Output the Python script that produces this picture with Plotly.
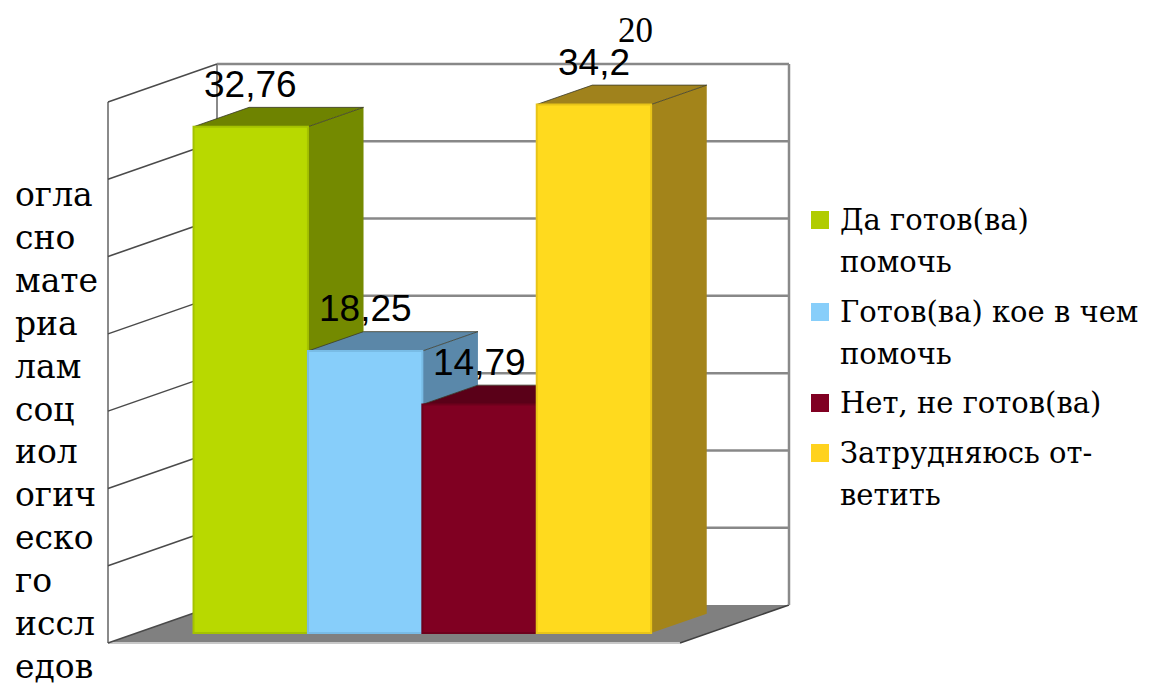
import plotly.graph_objects as go

# ---------------- data ----------------
series_names = ["Да готов(ва)<br>помочь", "Готов(ва) кое в чем<br>помочь",
                "Нет, не готов(ва)", "Затрудняюсь от-<br>ветить"]
values = [32.76, 18.25, 14.79, 34.2]
value_labels = ["32,76", "18,25", "14,79", "34,2"]
front_colors = ["#B8D900", "#87CEFA", "#800022", "#FFDA1E"]
side_colors = ["#748A00", "#5A88AA", "#55001A", "#A3841A"]
top_colors = ["#6E8300", "#5B87A8", "#5A0018", "#A0821C"]
edge_colors = ["#A4C200", "#79BCE6", "#6E001C", "#E8C418"]
legend_colors = ["#B0CC00", "#87CEFA", "#800022", "#FFD21E"]
axis_title_lines = ["огла", "сно", "мате", "риа", "лам", "соц", "иол",
                    "огич", "еско", "го", "иссл", "едов"]
top_text = "20"
axis_max, axis_step = 35, 5

SERIF_CYR = "DejaVu Serif, serif"
SERIF_NUM = "Liberation Serif, DejaVu Serif, serif"
SANS = "Liberation Sans, Arimo, Arial, sans-serif"

# ---------------- layout constants (page pixels) ----------------
PAGE_W, PAGE_H = 1156, 686
OFF = 8                      # default page body margin
W, H = PAGE_W - OFF, PAGE_H - OFF
FRONT_LEFT, FRONT_BOTTOM = 108 - OFF, 643 - OFF
WALL_W, WALL_H = 572, 541
DEPTH_PX = (109, 38)
SLOTS = 5
BAR_D1, BAR_D2 = 0.26, 0.77

ux = WALL_W / SLOTS
uy = WALL_H / axis_max
ox = DEPTH_PX[0] / ux
oy = DEPTH_PX[1] / uy


def px(xp):
    return (xp - OFF) / W


def py(yp):
    return 1 - (yp - OFF) / H


def P(x, v, d):
    return x + d * ox, v + d * oy


fig = go.Figure()


def line(pts, color, width, z=0, dash=None):
    xs = [p[0] for p in pts]
    ys = [p[1] for p in pts]
    fig.add_trace(go.Scatter(x=xs, y=ys, mode="lines", line=dict(color=color, width=width, dash=dash),
                             hoverinfo="skip", showlegend=False, zorder=z))


def poly(pts, color, z, lc=None, lw=0):
    xs = [p[0] for p in pts] + [pts[0][0]]
    ys = [p[1] for p in pts] + [pts[0][1]]
    fig.add_trace(go.Scatter(x=xs, y=ys, mode="lines", fill="toself", fillcolor=color,
                             line=dict(color=lc or color, width=lw), hoverinfo="skip",
                             showlegend=False, zorder=z))


# floor
poly([P(0, 0, 0), P(SLOTS, 0, 0), P(SLOTS, 0, 1), P(0, 0, 1)], "#808080", 0)
line([P(0, 0, 0), P(SLOTS, 0, 0)], "#C8C8C8", 2)
line([P(SLOTS, 0, 0), P(SLOTS, 0, 1)], "#404040", 1.5)

# back wall
for v in range(axis_step, axis_max + 1, axis_step):
    line([P(0, v, 1), P(SLOTS, v, 1)], "#888888", 2.5)
line([P(0, 0, 1), P(0, axis_max, 1)], "#8A8A8A", 2)
line([P(SLOTS, 0, 1), P(SLOTS, axis_max, 1)], "#8A8A8A", 2.5)
# left wall
line([P(0, 0, 0), P(0, axis_max, 0)], "#8A8A8A", 2)
for v in range(0, axis_max + 1, axis_step):
    line([P(0, v, 0), P(0, v, 1)], "#4A4A4A", 1.5)

# bars
for i, (val, name) in enumerate(zip(values, series_names)):
    xl = 0.5 + i
    xr = xl + 1
    z = 1 + 2 * i
    poly([P(xr, 0, BAR_D1), P(xr, val, BAR_D1), P(xr, val, BAR_D2), P(xr, 0, BAR_D2)], side_colors[i], z)
    poly([P(xl, val, BAR_D1), P(xr, val, BAR_D1), P(xr, val, BAR_D2), P(xl, val, BAR_D2)], top_colors[i], z,
         lc="#3A3A2A", lw=0.8)
    fx, fb = P(xl + 0.5, 0, BAR_D1)
    fig.add_trace(go.Bar(x=[fx], y=[val], base=[fb], width=[1.0], name=name,
                         marker=dict(color=front_colors[i], line=dict(color=edge_colors[i], width=2)),
                         showlegend=False, hoverinfo="skip", zorder=z + 1))
    _, ly = P(xl + 0.5, val, BAR_D2)
    fig.add_annotation(x=fx, y=ly, xref="x", yref="y", text=value_labels[i], showarrow=False,
                       yshift=23, font=dict(family=SANS, size=37, color="black"))

# legend (drawn manually to match the original layout)
LEG_SQ_X = 811
LEG_TXT_X = 838
LEG_Y = [220, 312, 403, 453]
SQ = 18
LEG_FONT = 29
LEG_LINE = 42
for i, name in enumerate(series_names):
    cy = LEG_Y[i]
    fig.add_shape(type="rect", xref="paper", yref="paper",
                  x0=px(LEG_SQ_X), x1=px(LEG_SQ_X + SQ),
                  y0=py(cy + SQ / 2), y1=py(cy - SQ / 2),
                  fillcolor=legend_colors[i], line=dict(width=0))
    for k, part in enumerate(name.split("<br>")):
        fig.add_annotation(xref="paper", yref="paper", x=px(LEG_TXT_X), y=py(cy + k * LEG_LINE),
                           xanchor="left", yanchor="middle", align="left", text=part, showarrow=False,
                           font=dict(family=SERIF_CYR, size=LEG_FONT, color="black"))

fig.add_annotation(xref="paper", yref="paper", x=px(13), y=py(430), xanchor="left", yanchor="middle",
                   align="left", text="<br>".join(axis_title_lines), showarrow=False,
                   font=dict(family=SERIF_CYR, size=33, color="black"))
fig.add_annotation(xref="paper", yref="paper", x=px(635), y=py(30), xanchor="center", yanchor="middle",
                   text=top_text, showarrow=False,
                   font=dict(family=SERIF_NUM, size=35, color="black"))

fig.update_layout(
    width=W, height=H, margin=dict(l=0, r=0, t=0, b=0),
    paper_bgcolor="white", plot_bgcolor="white",
    barmode="overlay", showlegend=False,
    xaxis=dict(range=[-FRONT_LEFT / ux, (W - FRONT_LEFT) / ux], visible=False, fixedrange=True),
    yaxis=dict(range=[-(H - FRONT_BOTTOM) / uy, FRONT_BOTTOM / uy], visible=False, fixedrange=True),
)

fig.write_html("out.html", config={"displayModeBar": False})
